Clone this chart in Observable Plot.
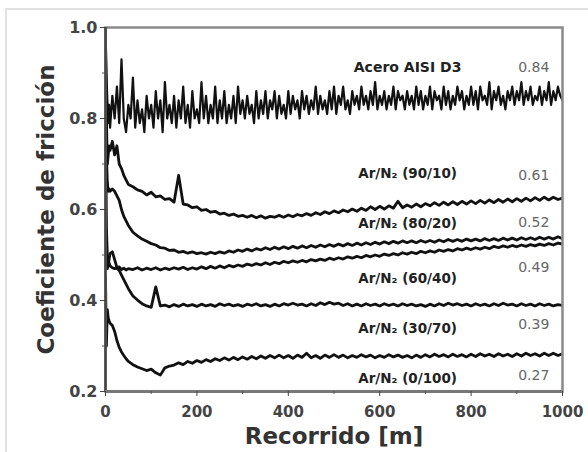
<!DOCTYPE html>
<html><head><meta charset="utf-8">
<script src="https://cdn.jsdelivr.net/npm/d3@7"></script>
<script src="https://cdn.jsdelivr.net/npm/@observablehq/plot@0.6"></script>
<style>
body{margin:0;background:#fff;}
#wrap{position:relative;width:588px;height:452px;overflow:hidden;background:#fff;}
#border{position:absolute;left:5px;top:8px;width:620px;height:480px;border:2px solid #e2e2e2;}
#chart{position:absolute;left:0;top:0;}
</style></head><body>
<div id="wrap"><div id="border"></div><div id="chart"></div></div>
<script>
// Recorrido [m] for the coated samples
const recorrido = [0,2,4,6,8,10,15,20,25,30,35,40,45,50,
  60,70,80,90,100,
  110,120,130,140,150,160,170,180,190,200,
  210,220,230,240,250,260,270,280,290,300,
  310,320,330,340,350,360,370,380,390,400,
  410,420,430,440,450,460,470,480,490,500,
  510,520,530,540,550,560,570,580,590,600,
  610,620,630,640,650,660,670,680,690,700,
  710,720,730,740,750,760,770,780,790,800,
  810,820,830,840,850,860,870,880,890,900,
  910,920,930,940,950,960,970,980,990,1000];

// Recorrido [m] for the uncoated steel (denser, noisier record)
const recorridoAcero = [0,2,4,6,8,10,15,20,25,30,35,40,45,50,
  55,60,65,70,75,80,85,90,95,100,
  105,110,115,120,125,130,135,140,145,150,
  155,160,165,170,175,180,185,190,195,200,
  205,210,215,220,225,230,235,240,245,250,
  255,260,265,270,275,280,285,290,295,300,
  305,310,315,320,325,330,335,340,345,350,
  355,360,365,370,375,380,385,390,395,400,
  405,410,415,420,425,430,435,440,445,450,
  455,460,465,470,475,480,485,490,495,500,
  505,510,515,520,525,530,535,540,545,550,
  555,560,565,570,575,580,585,590,595,600,
  605,610,615,620,625,630,635,640,645,650,
  655,660,665,670,675,680,685,690,695,700,
  705,710,715,720,725,730,735,740,745,750,
  755,760,765,770,775,780,785,790,795,800,
  805,810,815,820,825,830,835,840,845,850,
  855,860,865,870,875,880,885,890,895,900,
  905,910,915,920,925,930,935,940,945,950,
  955,960,965,970,975,980,985,990,995,1000];

const seriesNames = ["Acero AISI D3","Ar/N\u2082 (90/10)","Ar/N\u2082 (80/20)","Ar/N\u2082 (60/40)","Ar/N\u2082 (30/70)","Ar/N\u2082 (0/100)"];
const finalValues = ["0.84","0.61","0.52","0.49","0.39","0.27"];

const acero = [1.00,0.90,0.84,0.79,0.83,0.78,0.85,0.80,0.87,0.79,0.93,0.80,0.77,0.83,
  0.80,0.89,0.78,0.84,0.79,0.82,0.77,0.85,0.80,0.83,
  0.78,0.86,0.80,0.84,0.77,0.88,0.80,0.83,0.79,0.85,
  0.78,0.84,0.80,0.87,0.79,0.83,0.78,0.86,0.80,0.82,
  0.79,0.88,0.80,0.85,0.79,0.83,0.80,0.87,0.79,0.84,
  0.80,0.86,0.79,0.83,0.80,0.85,0.79,0.87,0.81,0.84,
  0.80,0.85,0.81,0.83,0.79,0.86,0.80,0.84,0.81,0.86,
  0.80,0.84,0.82,0.86,0.80,0.85,0.81,0.83,0.80,0.86,
  0.81,0.85,0.82,0.84,0.80,0.86,0.82,0.85,0.81,0.84,
  0.82,0.87,0.81,0.85,0.82,0.84,0.81,0.86,0.82,0.87,
  0.81,0.85,0.83,0.87,0.82,0.84,0.81,0.86,0.83,0.85,
  0.82,0.87,0.83,0.85,0.82,0.86,0.83,0.88,0.82,0.85,
  0.83,0.86,0.82,0.85,0.83,0.87,0.82,0.86,0.84,0.85,
  0.82,0.86,0.83,0.85,0.82,0.87,0.83,0.86,0.82,0.85,
  0.83,0.87,0.82,0.86,0.84,0.85,0.82,0.87,0.83,0.86,
  0.82,0.85,0.83,0.87,0.84,0.86,0.82,0.85,0.83,0.87,
  0.83,0.86,0.82,0.87,0.84,0.85,0.83,0.88,0.82,0.86,
  0.84,0.87,0.83,0.85,0.82,0.86,0.84,0.87,0.83,0.86,
  0.84,0.88,0.83,0.86,0.84,0.87,0.83,0.85,0.84,0.87,
  0.83,0.86,0.84,0.88,0.83,0.86,0.84,0.87,0.85,0.84];

const arN2_90_10 = [0.98,0.80,0.70,0.72,0.74,0.73,0.75,0.72,0.74,0.70,0.69,0.675,0.665,0.655,
  0.65,0.643,0.64,0.632,0.638,
  0.628,0.63,0.622,0.624,0.616,0.675,0.612,0.61,0.604,0.606,
  0.598,0.60,0.594,0.596,0.59,0.592,0.587,0.59,0.585,0.587,
  0.583,0.587,0.582,0.586,0.581,0.585,0.583,0.587,0.583,0.588,
  0.584,0.589,0.586,0.591,0.587,0.593,0.589,0.595,0.591,0.597,
  0.593,0.599,0.595,0.601,0.596,0.603,0.598,0.606,0.60,0.607,
  0.601,0.608,0.603,0.618,0.604,0.61,0.605,0.612,0.606,0.613,
  0.608,0.615,0.609,0.616,0.61,0.617,0.611,0.618,0.612,0.619,
  0.613,0.62,0.614,0.621,0.615,0.622,0.616,0.623,0.617,0.624,
  0.618,0.625,0.619,0.626,0.62,0.627,0.621,0.627,0.622,0.625];

const arN2_80_20 = [0.95,0.72,0.66,0.64,0.645,0.64,0.645,0.64,0.63,0.62,0.60,0.585,0.575,0.565,
  0.55,0.542,0.535,0.53,0.525,
  0.522,0.516,0.515,0.51,0.511,0.506,0.508,0.504,0.507,0.503,
  0.505,0.502,0.506,0.503,0.507,0.504,0.509,0.506,0.511,0.508,
  0.513,0.509,0.514,0.511,0.516,0.512,0.517,0.513,0.518,0.514,
  0.519,0.515,0.52,0.516,0.521,0.517,0.522,0.518,0.523,0.519,
  0.524,0.52,0.525,0.521,0.526,0.522,0.527,0.523,0.528,0.524,
  0.529,0.525,0.53,0.526,0.531,0.527,0.531,0.527,0.532,0.528,
  0.532,0.528,0.533,0.529,0.534,0.53,0.534,0.53,0.535,0.531,
  0.535,0.531,0.536,0.532,0.536,0.532,0.537,0.533,0.537,0.533,
  0.538,0.534,0.538,0.534,0.539,0.535,0.539,0.535,0.54,0.536];

const arN2_60_40 = [0.62,0.48,0.47,0.478,0.492,0.503,0.507,0.49,0.472,0.474,0.468,0.471,0.467,0.47,
  0.468,0.472,0.467,0.471,0.468,
  0.472,0.467,0.471,0.468,0.472,0.469,0.473,0.468,0.472,0.469,
  0.474,0.47,0.475,0.471,0.476,0.472,0.477,0.474,0.478,0.475,
  0.48,0.477,0.481,0.478,0.483,0.479,0.484,0.481,0.486,0.483,
  0.487,0.484,0.488,0.485,0.49,0.487,0.491,0.488,0.493,0.49,
  0.494,0.491,0.496,0.493,0.497,0.494,0.499,0.496,0.50,0.497,
  0.502,0.499,0.503,0.50,0.505,0.502,0.506,0.503,0.508,0.505,
  0.509,0.506,0.511,0.508,0.512,0.509,0.514,0.511,0.515,0.512,
  0.516,0.513,0.517,0.514,0.519,0.516,0.52,0.517,0.521,0.518,
  0.522,0.519,0.523,0.52,0.524,0.521,0.525,0.522,0.526,0.524];

const arN2_30_70 = [0.85,0.56,0.50,0.49,0.482,0.476,0.472,0.47,0.471,0.466,0.456,0.446,0.436,0.426,
  0.41,0.401,0.393,0.388,0.385,
  0.43,0.388,0.39,0.386,0.391,0.387,0.392,0.388,0.391,0.387,
  0.392,0.388,0.391,0.387,0.393,0.389,0.392,0.388,0.391,0.387,
  0.392,0.389,0.393,0.388,0.391,0.387,0.392,0.388,0.393,0.39,
  0.394,0.39,0.392,0.388,0.393,0.389,0.395,0.391,0.396,0.392,
  0.394,0.389,0.393,0.388,0.392,0.388,0.393,0.389,0.392,0.388,
  0.393,0.389,0.392,0.388,0.393,0.389,0.392,0.388,0.391,0.387,
  0.392,0.388,0.393,0.389,0.394,0.39,0.393,0.389,0.392,0.388,
  0.393,0.389,0.392,0.388,0.393,0.389,0.394,0.39,0.392,0.388,
  0.393,0.389,0.392,0.388,0.393,0.389,0.392,0.388,0.391,0.389];

const arN2_0_100 = [0.45,0.30,0.38,0.362,0.355,0.35,0.345,0.332,0.312,0.297,0.287,0.279,0.272,0.266,
  0.259,0.254,0.25,0.246,0.249,
  0.241,0.236,0.252,0.256,0.258,0.263,0.259,0.266,0.262,0.268,
  0.264,0.27,0.266,0.272,0.268,0.274,0.269,0.275,0.27,0.276,
  0.271,0.277,0.272,0.278,0.273,0.279,0.274,0.28,0.274,0.279,
  0.273,0.28,0.275,0.284,0.274,0.279,0.273,0.28,0.275,0.281,
  0.275,0.28,0.274,0.279,0.275,0.281,0.276,0.28,0.274,0.279,
  0.275,0.281,0.276,0.28,0.275,0.279,0.274,0.28,0.275,0.281,
  0.276,0.282,0.277,0.281,0.276,0.282,0.277,0.281,0.276,0.282,
  0.277,0.283,0.278,0.282,0.277,0.283,0.278,0.282,0.277,0.283,
  0.278,0.284,0.279,0.283,0.278,0.284,0.279,0.284,0.279,0.283];

const xTicks = [0,200,400,600,800,1000];
const xMinor = [100,300,500,700,900];
const yTicks = [0.2,0.4,0.6,0.8,1.0];
const yMinor = [0.3,0.5,0.7,0.9];

// annotation anchors (data units)
const nameAnchorX = 661;
const nameAnchorY = [0.912,0.679,0.569,0.448,0.338,0.229];
const valueAnchorX = 937;
const valueAnchorY = [0.912,0.675,0.571,0.473,0.347,0.235];

const coated = [arN2_90_10, arN2_80_20, arN2_60_40, arN2_30_70, arN2_0_100];
const coatRows = [];
coated.forEach((vals, i) => vals.forEach((v, j) => coatRows.push({x: recorrido[j], y: v, s: seriesNames[i + 1]})));
const steelRows = acero.map((v, j) => ({x: recorridoAcero[j], y: v, s: seriesNames[0]}));
const nameRows = seriesNames.map((n, i) => ({text: n, x: nameAnchorX, y: nameAnchorY[i]}));
const valueRows = finalValues.map((t, i) => ({text: t, x: valueAnchorX, y: valueAnchorY[i]}));

const font = "'DejaVu Sans', 'Liberation Sans', sans-serif";
const chart = Plot.plot({
  width: 588, height: 452,
  marginLeft: 105, marginRight: 26, marginTop: 27, marginBottom: 61,
  style: {fontFamily: font, background: "transparent", overflow: "visible"},
  x: {domain: [0, 1000]},
  y: {domain: [0.2, 1.0]},
  marks: [
    Plot.line(coatRows, {x: "x", y: "y", z: "s", stroke: "#111", strokeWidth: 2.8, strokeLinejoin: "round", clip: true}),
    Plot.line(steelRows, {x: "x", y: "y", z: "s", stroke: "#111", strokeWidth: 2.2, strokeLinejoin: "round", clip: true}),
    Plot.frame({stroke: "#8a8a8a", strokeWidth: 2.5}),
    Plot.ruleX([0], {stroke: "#444", strokeWidth: 2.5}),
    Plot.ruleY([0.2], {stroke: "#777", strokeWidth: 3}),
    Plot.axisX({ticks: xTicks, tickSize: 5, tickPadding: 10, tickFormat: d => String(d), fontSize: 15, fontWeight: "bold", color: "#444", label: null}),
    Plot.axisX({ticks: xMinor, tickSize: 3, tickFormat: () => "", color: "#555", label: null}),
    Plot.axisY({ticks: yTicks, tickSize: 5, tickPadding: 3, tickFormat: d => d.toFixed(1), fontSize: 16, fontWeight: "bold", color: "#444", label: null}),
    Plot.axisY({ticks: yMinor, tickSize: 3, tickFormat: () => "", color: "#555", label: null}),
    Plot.text(nameRows.slice(0, 1), {x: "x", y: "y", text: "text", fontSize: 14, fontWeight: "bold", fill: "#222"}),
    Plot.text(nameRows.slice(1), {x: "x", y: "y", text: "text", fontSize: 13.5, fontWeight: "bold", fill: "#222"}),
    Plot.text(valueRows, {x: "x", y: "y", text: "text", fontSize: 14, fill: "#666"}),
    Plot.text(["Recorrido [m]"], {text: d => d, frameAnchor: "bottom", dy: 52, fontSize: 23, fontWeight: "bold", fill: "#333"}),
    Plot.text(["Coeficiente de fricción"], {text: d => d, frameAnchor: "left", textAnchor: "middle", dx: -59, rotate: -90, fontSize: 23, fontWeight: "bold", fill: "#333"})
  ]
});
document.getElementById("chart").appendChild(chart);
</script>
</body></html>
